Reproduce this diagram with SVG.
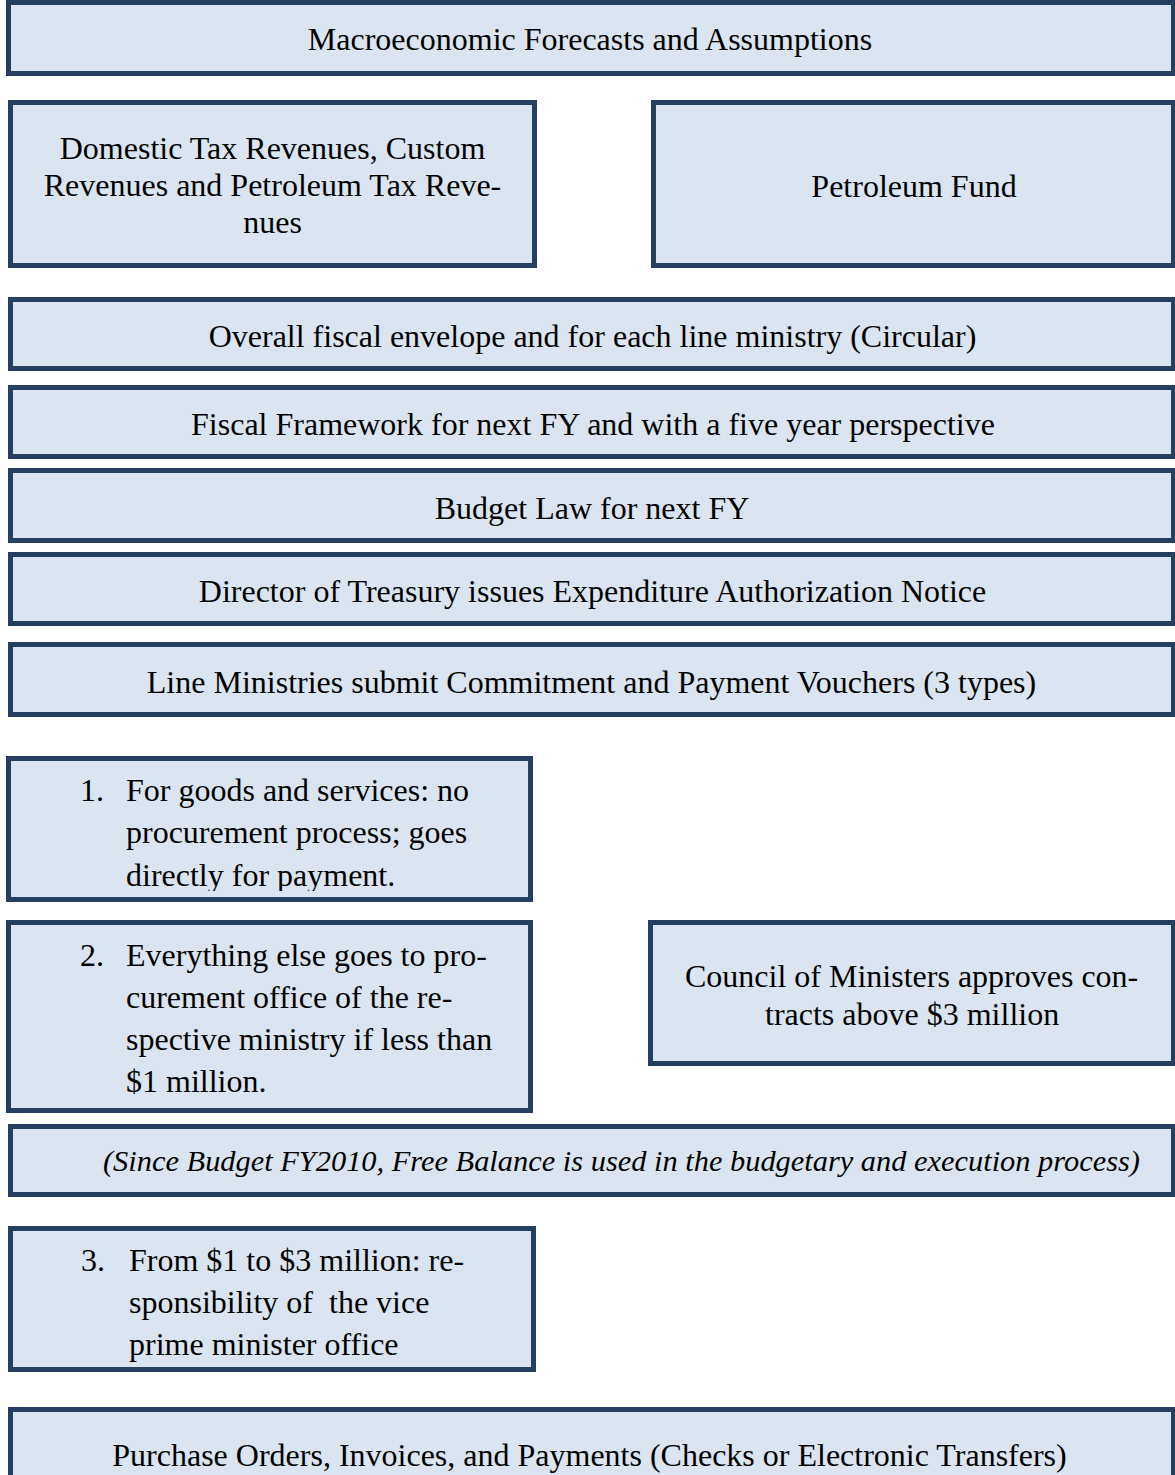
<svg xmlns="http://www.w3.org/2000/svg" width="1175" height="1475" viewBox="0 0 1175 1475">
<style>
.box{fill:#DBE5F1;stroke:#243F60;stroke-width:5}
.t{font-family:"Liberation Serif","Times New Roman",serif;font-size:32px;fill:#000}
.c{text-anchor:middle}
.i{font-style:italic;font-size:30.3px}
</style>
<defs>
<clipPath id="clip1"><rect x="11" y="761" width="517" height="130"/></clipPath>
<clipPath id="clip3"><rect x="13" y="1231" width="518" height="131"/></clipPath>
</defs>
<rect width="1175" height="1475" fill="#fff"/>
<g id="connectors"></g>
<g id="macro"><rect class="box" x="8.5" y="2.5" width="1165" height="71"/><text class="t c" x="590" y="50">Macroeconomic Forecasts and Assumptions</text></g>
<g id="domestic"><rect class="box" x="10.5" y="102.5" width="524" height="163"/>
<text class="t c" x="272.5" y="159">Domestic Tax Revenues, Custom</text>
<text class="t c" x="272.5" y="196">Revenues and Petroleum Tax Reve-</text>
<text class="t c" x="272.5" y="233">nues</text></g>
<g id="petroleum"><rect class="box" x="653.5" y="102.5" width="520" height="163"/><text class="t c" x="914" y="197">Petroleum Fund</text></g>
<g id="overall"><rect class="box" x="10.5" y="299.5" width="1163" height="69"/><text class="t c" x="592.5" y="347">Overall fiscal envelope and for each line ministry (Circular)</text></g>
<g id="fiscal"><rect class="box" x="10.5" y="387.5" width="1163" height="69"/><text class="t c" x="593" y="435">Fiscal Framework for next FY and with a five year perspective</text></g>
<g id="budget"><rect class="box" x="10.5" y="470.5" width="1163" height="70"/><text class="t c" x="592" y="519">Budget Law for next FY</text></g>
<g id="director"><rect class="box" x="10.5" y="554.5" width="1163" height="69"/><text class="t c" x="592.5" y="602">Director of Treasury issues Expenditure Authorization Notice</text></g>
<g id="line"><rect class="box" x="10.5" y="644.5" width="1163" height="70"/><text class="t c" x="591.5" y="693">Line Ministries submit Commitment and Payment Vouchers (3 types)</text></g>
<g id="item1"><rect class="box" x="8.5" y="758.5" width="522" height="141"/>
<g clip-path="url(#clip1)">
<text class="t" x="80" y="801">1.</text>
<text class="t" x="126" y="801">For goods and services: no</text>
<text class="t" x="126" y="843">procurement process; goes</text>
<text class="t" x="126" y="886">directly for payment.</text></g></g>
<g id="item2"><rect class="box" x="8.5" y="922.5" width="522" height="188"/>
<text class="t" x="80" y="966">2.</text>
<text class="t" x="126" y="966">Everything else goes to pro-</text>
<text class="t" x="126" y="1008">curement office of the re-</text>
<text class="t" x="126" y="1050">spective ministry if less than</text>
<text class="t" x="126" y="1092">$1 million.</text></g>
<g id="council"><rect class="box" x="650.5" y="922.5" width="523" height="141"/>
<text class="t" x="685" y="987">Council of Ministers approves con-</text>
<text class="t" x="765" y="1025">tracts above $3 million</text></g>
<g id="since"><rect class="box" x="10.5" y="1126.5" width="1163" height="68"/><text class="t i" x="103" y="1171" textLength="1037" lengthAdjust="spacingAndGlyphs">(Since Budget FY2010, Free Balance is used in the budgetary and execution process)</text></g>
<g id="item3"><rect class="box" x="10.5" y="1228.5" width="523" height="141"/>
<g clip-path="url(#clip3)">
<text class="t" x="81" y="1271">3.</text>
<text class="t" x="129" y="1271">From $1 to $3 million: re-</text>
<text class="t" x="129" y="1313" xml:space="preserve">sponsibility of  the vice</text>
<text class="t" x="129" y="1355">prime minister office</text></g></g>
<g id="purchase"><rect class="box" x="10.5" y="1409.5" width="1163" height="75"/><text class="t c" x="589.5" y="1466">Purchase Orders, Invoices, and Payments (Checks or Electronic Transfers)</text></g>
</svg>
